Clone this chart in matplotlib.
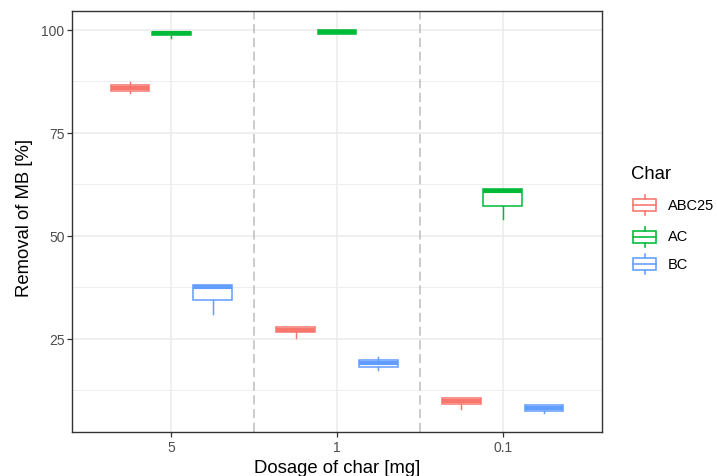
import matplotlib
matplotlib.use("Agg")
import matplotlib.pyplot as plt
from matplotlib.patches import Rectangle
from matplotlib.lines import Line2D

plt.rcParams['font.family'] = ['Liberation Sans', 'DejaVu Sans']

dosages = ["5", "1", "0.1"]
series = ["ABC25", "AC", "BC"]
colors = ["#F8766D", "#00BA38", "#619CFF"]

# per series, per dosage: (whislo, q1, median, q3, whishi)
abc25_stats = [(84.6, 85.1, 85.8, 86.5, 87.4), (25.2, 26.5, 27.2, 27.9, 27.9), (7.8, 9.1, 9.8, 10.5, 10.5)]
ac_stats = [(98.1, 98.75, 99.2, 99.6, 99.6), (99.05, 99.05, 99.5, 99.95, 99.95), (54.0, 57.25, 60.8, 61.3, 61.3)]
bc_stats = [(31.0, 34.3, 37.65, 38.1, 38.1), (17.4, 18.2, 19.0, 19.8, 20.6), (6.85, 7.5, 8.2, 8.85, 8.85)]
all_stats = [abc25_stats, ac_stats, bc_stats]

yticks = [25, 50, 75, 100]
yminor = [12.5, 37.5, 62.5, 87.5]

W, H = 717, 477
fig = plt.figure(figsize=(W / 100, H / 100), dpi=100)
ax = fig.add_axes([72 / W, 1 - 433 / H, (602 - 72) / W, (433 - 12) / H])

grid_c = "#EBEBEB"
for y in yminor:
    ax.axhline(y, color=grid_c, lw=0.6, zorder=0)
for y in yticks:
    ax.axhline(y, color=grid_c, lw=1.1, zorder=0)
for i in range(len(dosages)):
    ax.axvline(i + 1, color=grid_c, lw=1.1, zorder=0)
for xv in [1.5, 2.5]:
    ax.axvline(xv, color="#BDBDBD", lw=1.1, linestyle=(0, (6, 3)), zorder=1)

offsets = [-0.25, 0.0, 0.25]
for s, (name, col, st) in enumerate(zip(series, colors, all_stats)):
    stats = []
    for (wl, q1, md, q3, wh) in st:
        stats.append(dict(whislo=wl, q1=q1, med=md, q3=q3, whishi=wh, fliers=[]))
    pos = [i + 1 + offsets[s] for i in range(len(dosages))]
    ax.bxp(stats, positions=pos, widths=0.235, showfliers=False, showcaps=False,
           patch_artist=True,
           boxprops=dict(facecolor="white", edgecolor=col, linewidth=1.1),
           whiskerprops=dict(color=col, linewidth=1.05),
           medianprops=dict(color=col, linewidth=3.0, solid_capstyle='butt'),
           manage_ticks=False, zorder=3)

ax.set_xlim(0.4, 3.6)
ax.set_ylim(2.3, 104.6)
ax.set_xticks([1, 2, 3])
ax.set_xticklabels(dosages)
ax.set_yticks(yticks)
ax.set_yticklabels([str(v) for v in yticks])
ax.tick_params(axis='both', length=3.6, width=0.9, color="#333333", labelcolor="#4D4D4D",
               labelsize=10)
ax.tick_params(axis='x', pad=2.5)
ax.tick_params(axis='y', pad=1.8)
for sp in ax.spines.values():
    sp.set_color("#333333")
    sp.set_linewidth(1.0)

fig.text(337 / W, 1 - 473 / H, "Dosage of char [mg]", ha='center', va='baseline', fontsize=13.3, color='black')
fig.text(25 / W, 1 - 218 / H, "Removal of MB [%]", ha='center', va='center', rotation=90, fontsize=13.3, color='black')

# legend
lg = fig.add_axes([0, 0, 1, 1], zorder=10)
lg.set_xlim(0, W)
lg.set_ylim(H, 0)
lg.axis('off')
lg.text(631, 175, "Char", ha='left', va='center', fontsize=13.3, color='black')
key_y = [206, 237.5, 265]
for name, col, cy in zip(series, colors, key_y):
    lg.add_patch(Rectangle((633, cy - 6), 23, 12, facecolor='white', edgecolor=col, lw=1.15))
    lg.add_line(Line2D([633, 656], [cy, cy], color=col, lw=1.15))
    lg.add_line(Line2D([644.5, 644.5], [cy - 10, cy - 6], color=col, lw=1.15))
    lg.add_line(Line2D([644.5, 644.5], [cy + 6, cy + 10], color=col, lw=1.15))
    lg.text(668, cy, name, ha='left', va='center', fontsize=10.5, color='black')

fig.savefig("out.png", dpi=100, facecolor='white')
